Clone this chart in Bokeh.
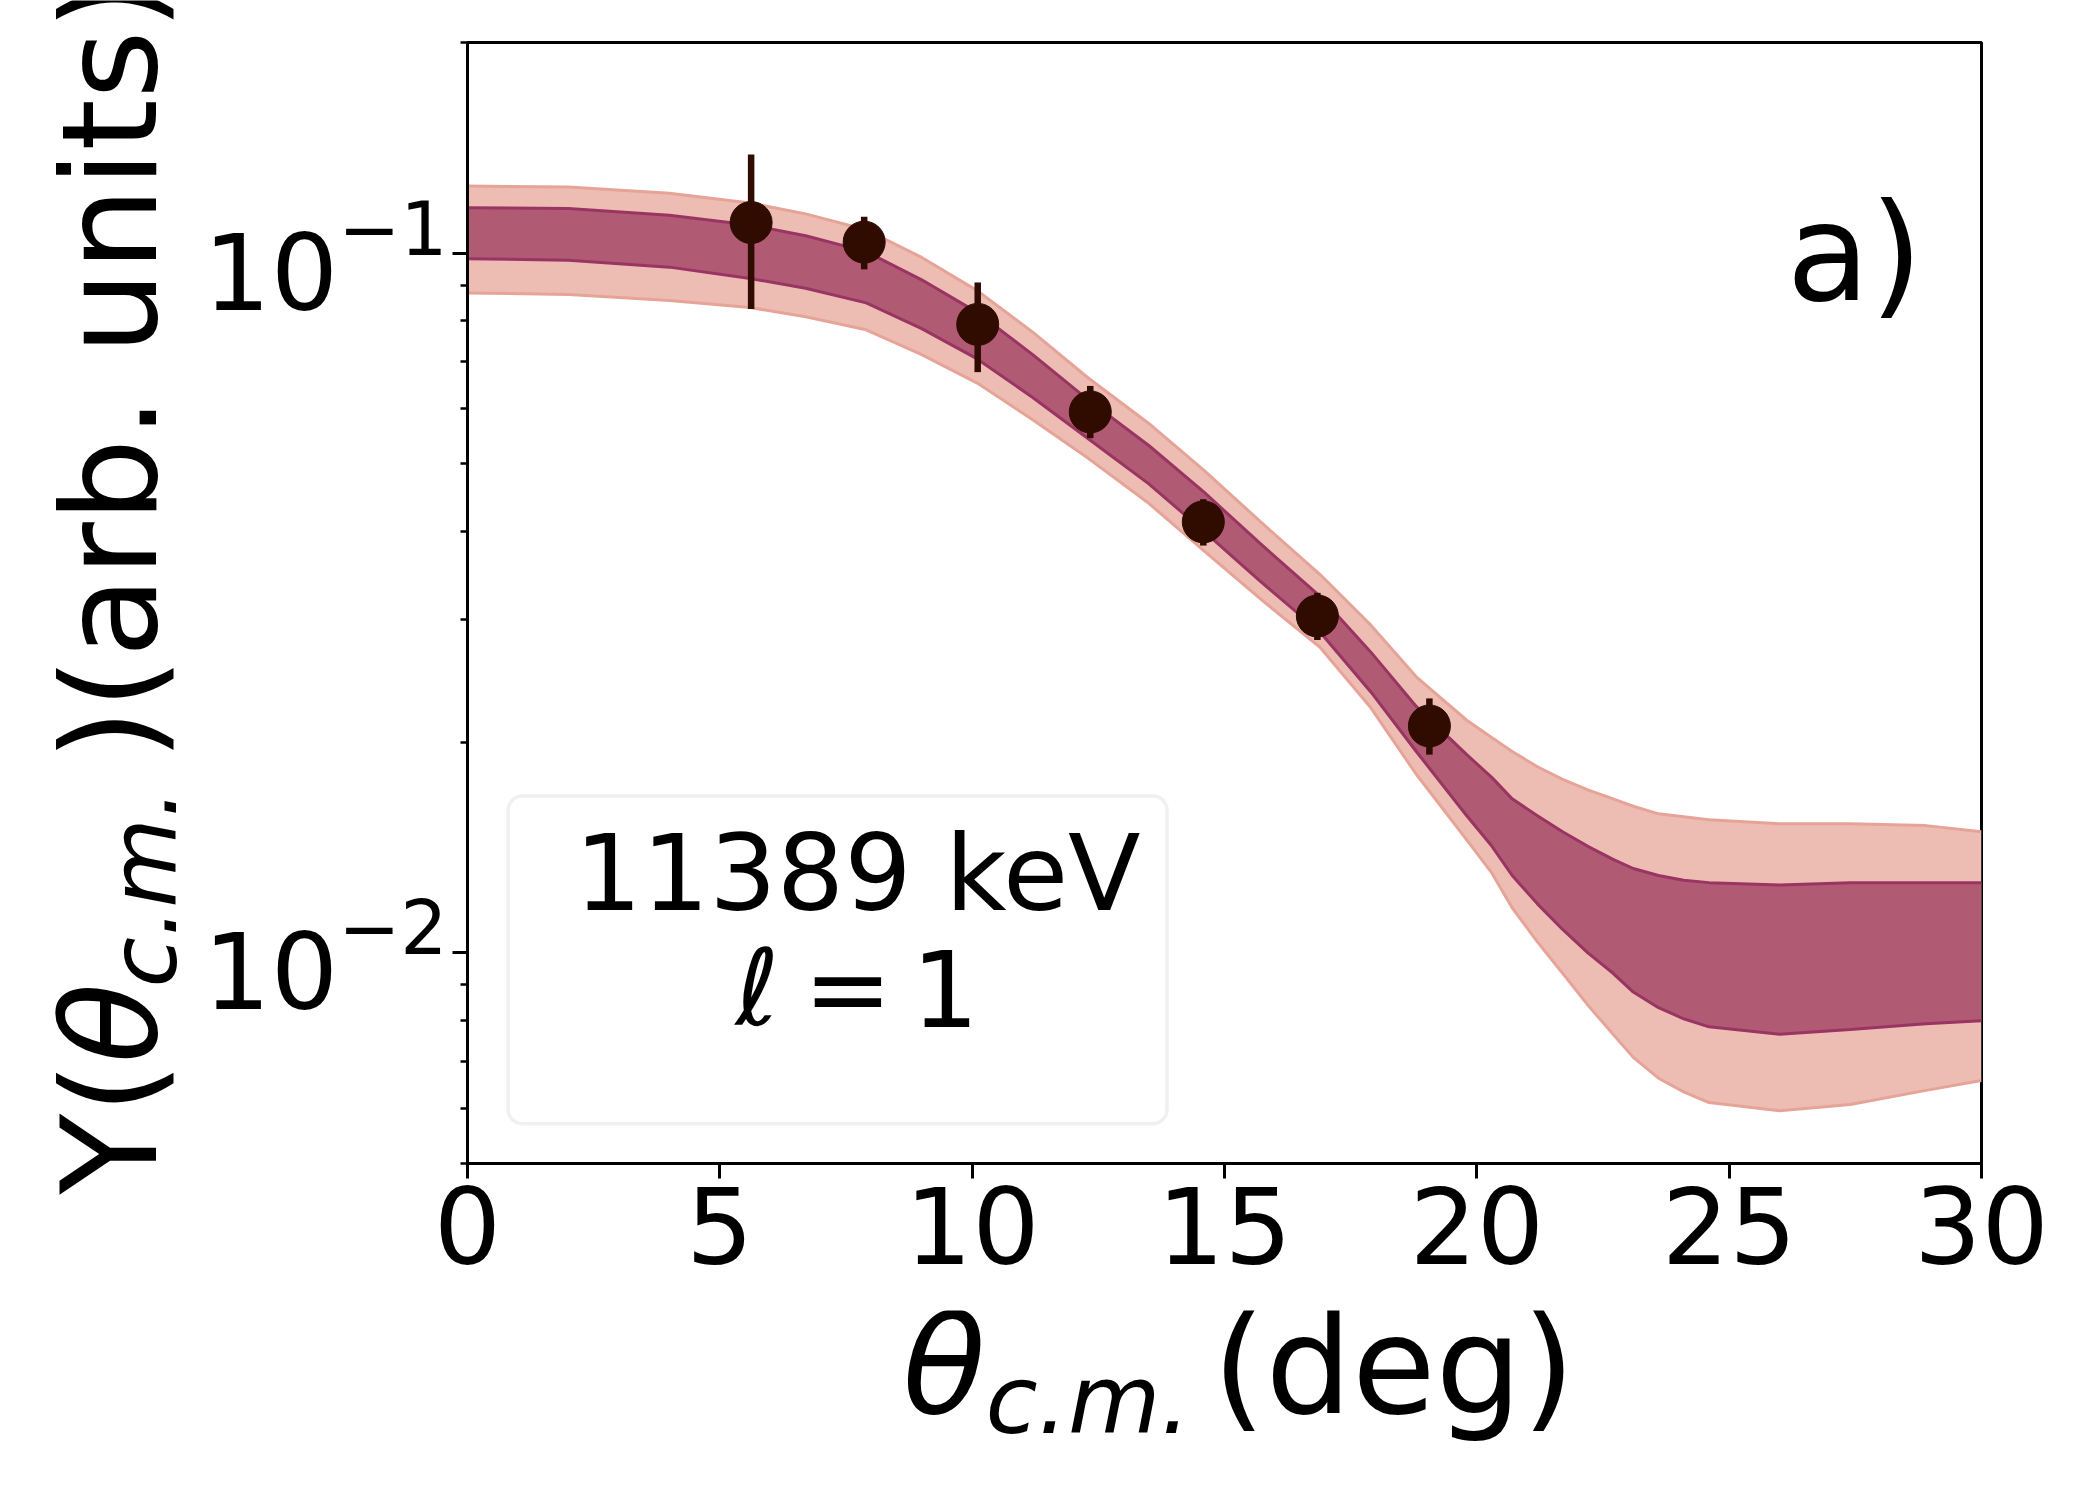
import math
from bokeh.plotting import figure
from bokeh.layouts import row, column
from bokeh.models import FixedTicker, LogTickFormatter, Label, BoxAnnotation, Range1d
from bokeh.embed import file_html
from bokeh.resources import INLINE

# ---------------- data ----------------
theta_pts = [5.62, 7.86, 10.11, 12.34, 14.58, 16.84, 19.06]
yield_pts = [0.1106, 0.1037, 0.0791, 0.0593, 0.0413, 0.0303, 0.0211]
yield_hi = [0.1384, 0.1127, 0.0908, 0.0646, 0.0445, 0.0327, 0.0231]
yield_lo = [0.0832, 0.0948, 0.0676, 0.0544, 0.0382, 0.0280, 0.0192]

band_theta = [0.0, 2.0, 4.0, 5.6, 6.7, 7.9, 9.0, 10.1, 11.2, 12.3, 13.5, 14.6,
              15.7, 16.9, 17.9, 18.8, 19.8, 20.3, 20.7, 21.2, 21.7, 22.2, 22.7,
              23.1, 23.6, 24.1, 24.6, 26.0, 27.4, 28.9, 30.0]
outer_hi = [0.1247, 0.1243, 0.1218, 0.1179, 0.1138, 0.1080, 0.0986, 0.0884, 0.0771,
            0.0663, 0.0571, 0.0489, 0.0414, 0.0347, 0.0294, 0.0248, 0.0215, 0.0203,
            0.0194, 0.01845, 0.0177, 0.0171, 0.0166, 0.0162, 0.0158, 0.01565, 0.0155,
            0.0153, 0.0153, 0.0152, 0.0149]
inner_hi = [0.1161, 0.1158, 0.1133, 0.1097, 0.1059, 0.1005, 0.0916, 0.0823, 0.0716,
            0.0617, 0.0531, 0.0455, 0.0385, 0.0323, 0.0269, 0.0225, 0.0192, 0.0178,
            0.0166, 0.0157, 0.0149, 0.0142, 0.0136, 0.0132, 0.0129, 0.0127, 0.0126,
            0.0125, 0.0126, 0.0126, 0.0126]
inner_lo = [0.0982, 0.0977, 0.0955, 0.0920, 0.0891, 0.0849, 0.0780, 0.0706, 0.0622,
            0.0543, 0.0468, 0.0400, 0.0340, 0.0287, 0.0236, 0.0194, 0.0157, 0.0142,
            0.0129, 0.01175, 0.0108, 0.0100, 0.00935, 0.00879, 0.00835, 0.00805,
            0.00784, 0.00765, 0.00777, 0.00792, 0.00800]
outer_lo = [0.0877, 0.0873, 0.0856, 0.0836, 0.0811, 0.0777, 0.0716, 0.0652, 0.0578,
            0.0509, 0.0439, 0.0375, 0.0321, 0.0273, 0.0224, 0.0180, 0.0145, 0.0130,
            0.0116, 0.01037, 0.00935, 0.00842, 0.00765, 0.00709, 0.00662, 0.00633,
            0.00611, 0.00595, 0.00607, 0.00636, 0.00657]

x_ticks = [0, 5, 10, 15, 20, 25, 30]
y_major = [0.01, 0.1]
y_minor = [0.005, 0.006, 0.007, 0.008, 0.009,
           0.02, 0.03, 0.04, 0.05, 0.06, 0.07, 0.08, 0.09, 0.2]

legend_line1 = "11389 keV"
panel_tag = "a)"

# ---------------- styles ----------------
FONT = "DejaVu Sans"
OUTER_FILL = "#edbdb4"
OUTER_EDGE = "#e6a498"
INNER_FILL = "#b05a74"
INNER_EDGE = "#9a3462"
POINT = "#300c00"
BIG = 136
YBIG = 132
SUB = 95
YSUB = 92
TICK = 106
SHIFT = 0.345  # baseline correction (em)

def lab(fig, text, x, y, size, italic=False, angle=0.0, align="left"):
    # (x, y): wanted baseline start, screen units relative to fig frame
    if angle == 0.0:
        y = y + SHIFT * size
    else:
        x = x - SHIFT * size
    fig.add_layout(Label(x=x, y=y, x_units="screen", y_units="screen", text=text,
                         text_font=FONT, text_font_size=f"{size}px",
                         text_font_style="italic" if italic else "normal",
                         text_color="black", text_align=align,
                         text_baseline="alphabetic", angle=angle))

def blank(w, h):
    f = figure(width=w, height=h, x_range=Range1d(0, 1), y_range=Range1d(0, 1),
               output_backend="svg", toolbar_location=None,
               x_axis_location=None, y_axis_location=None, min_border=0)
    f.outline_line_color = None
    f.xgrid.visible = False
    f.ygrid.visible = False
    f.background_fill_color = "white"
    f.border_fill_color = "white"
    return f

# ---------------- main plot ----------------
p = figure(width=1884, height=1310,
           x_range=Range1d(0, 30), y_range=Range1d(0.005, 0.2),
           y_axis_type="log", output_backend="svg", toolbar_location=None,
           min_border_left=257, min_border_right=103,
           min_border_top=42, min_border_bottom=147)

p.background_fill_color = "white"
p.border_fill_color = "white"
p.outline_line_color = "black"
p.outline_line_width = 3
p.xgrid.visible = False
p.ygrid.visible = False

p.varea(x=band_theta, y1=outer_lo, y2=outer_hi, fill_color=OUTER_FILL)
p.line(band_theta, outer_hi, line_color=OUTER_EDGE, line_width=3)
p.line(band_theta, outer_lo, line_color=OUTER_EDGE, line_width=3)
p.varea(x=band_theta, y1=inner_lo, y2=inner_hi, fill_color=INNER_FILL)
p.line(band_theta, inner_hi, line_color=INNER_EDGE, line_width=3)
p.line(band_theta, inner_lo, line_color=INNER_EDGE, line_width=3)

p.segment(x0=theta_pts, y0=yield_lo, x1=theta_pts, y1=yield_hi,
          line_color=POINT, line_width=6.5)
p.scatter(theta_pts, yield_pts, size=42, fill_color=POINT, line_color=POINT)

for ax in (p.xaxis[0], p.yaxis[0]):
    ax.axis_line_width = 3
    ax.axis_line_color = "black"
    ax.major_tick_line_width = 3
    ax.major_tick_line_color = "black"
    ax.major_tick_out = 15
    ax.major_tick_in = 0
    ax.major_label_text_font = FONT
    ax.major_label_text_font_size = f"{TICK}px"
    ax.major_label_text_color = "black"
    ax.axis_label = None

p.xaxis.ticker = FixedTicker(ticks=x_ticks)
p.xaxis.minor_tick_line_color = None
p.xaxis.major_label_standoff = 8

p.yaxis.ticker = FixedTicker(ticks=y_major, minor_ticks=y_minor)
p.yaxis.formatter = LogTickFormatter()
p.yaxis.minor_tick_line_width = 2.5
p.yaxis.minor_tick_line_color = "black"
p.yaxis.minor_tick_out = 7
p.yaxis.minor_tick_in = 0
p.yaxis.major_label_standoff = 5

# panel tag and legend-like box (frame-relative screen units)
lab(p, panel_tag, 1319, 864, BIG)
p.add_layout(BoxAnnotation(left=0.807, right=13.86, top=0.01675, bottom=0.0057,
                           fill_color="white", fill_alpha=1.0,
                           line_color="#cccccc", line_width=3.5, border_radius=14))
lab(p, legend_line1, 390, 253, TICK, align="center")
lab(p, "ℓ", 268, 138, TICK, italic=True)
lab(p, "=", 336, 138, TICK)
lab(p, "1", 444, 138, TICK)

# ---------------- y label strip ----------------
ylab = blank(200, 1484)
rot = math.pi / 2
lab(ylab, "Y(", 155, 290, YBIG, angle=rot)
lab(ylab, "θ", 155, 421, YBIG, italic=True, angle=rot)
lab(ylab, "c.m.", 176, 497, YSUB, italic=True, angle=rot)
lab(ylab, ")(arb. units)", 155, 724, YBIG, angle=rot)

# ---------------- x label strip (frame aligned with main frame) ----------------
xlab = blank(1884, 174)
lab(xlab, "θ", 435, 72, BIG, italic=True)
lab(xlab, "c.m.", 518, 52, SUB, italic=True)
lab(xlab, "(deg)", 745, 72, BIG)

layout = row(ylab, column(p, xlab))
open("out.html", "w").write(file_html(layout, INLINE))
